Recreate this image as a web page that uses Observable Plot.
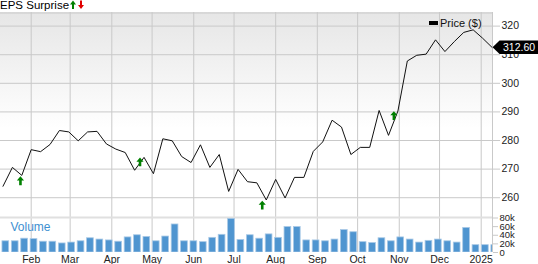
<!DOCTYPE html>
<html><head><meta charset="utf-8">
<script src="https://cdn.jsdelivr.net/npm/d3@7"></script>
<script src="https://cdn.jsdelivr.net/npm/@observablehq/plot@0.6"></script>
<style>
body{margin:0;background:#fff;font-family:"Liberation Sans",Arial,sans-serif;}
#wrap{position:relative;width:538px;height:264px;overflow:hidden;}
#title{height:12px;font-size:11.5px;line-height:12px;color:#000;white-space:nowrap;}
#title span{position:relative;top:-1px;}
#title svg{vertical-align:top;margin-left:1px;}
#price svg,#vol svg{display:block;}
#legRect{position:absolute;left:429px;top:21px;width:9px;height:4px;background:#000;}
#legText{position:absolute;left:440px;top:18px;font-size:11px;line-height:11px;color:#111;}
</style></head><body>
<div id="wrap">
  <div id="title"><span>EPS Surprise</span><svg width="6" height="10" viewBox="0 0 6 10"><path d="M3,0.5 L6,4.5 L4,4.5 L4,9 L2,9 L2,4.5 L0,4.5Z" fill="#008000"/></svg><svg width="6" height="10" viewBox="0 0 6 10" style="margin-left:2px"><path d="M2,0.5 L4,0.5 L4,5 L6,5 L3,9 L0,5 L2,5Z" fill="#e00000"/></svg></div>
  <div id="price"></div>
  <div id="vol"></div>
  <div id="legRect"></div>
  <div id="legText">Price ($)</div>
</div>
<script>
// ---- data ----
const firstWeek = "2024-01-11";
const lastWeek = "2025-01-09";
const prices = [264, 270.6, 267.8, 276.8, 276.1, 278.6, 283.5, 283, 279.9, 283,
  283.2, 278.8, 277, 275.8, 269.6, 274.1, 268.4, 280.6, 279.9, 274.4,
  272.3, 278.5, 270.6, 275.1, 262.2, 269.9, 265.6, 265.2, 259.2, 266.4,
  259.9, 267.1, 267.1, 276.2, 279.5, 287.1, 284.7, 275.1, 277.6, 277.6,
  290.5, 281.8, 290.3, 307.8, 309.8, 310.2, 315.2, 311.1, 314.6, 317.8,
  318.7, 315.8, 312.6];
const volumesK = [26, 26, 32, 31, 25, 25, 21, 23, 26, 33,
  30, 28, 25, 35, 40, 36, 26, 37, 65, 26,
  26, 24, 34, 41, 78, 29, 40, 32, 42, 34,
  59, 59, 28, 28, 26, 30, 52, 47, 24, 22,
  33, 26, 35, 30, 23, 27, 30, 26, 23, 57,
  17, 17, 17];
const epsDates = ["2024-01-24", "2024-04-22", "2024-07-22", "2024-10-28"];
const epsLevels = [265.9, 272.5, 257.4, 288.7];
const priceTicks = [260, 270, 280, 290, 300, 310, 320];
const volTicks = [0, 20000, 40000, 60000, 80000];

// ---- tables ----
const weeks = d3.utcThursday.range(new Date(firstWeek), d3.utcDay.offset(new Date(lastWeek), 1));
const priceData = weeks.map((d, i) => ({date: d, price: prices[i]}));
const volData = weeks.map((d, i) => ({date: d, vol: volumesK[i] * 1000}));
const epsData = epsDates.map((d, i) => ({date: new Date(d), level: epsLevels[i]}));
const last = priceData[priceData.length - 1];

const xDomain = [new Date("2024-01-09T03:29Z"), new Date("2025-01-09T09:53Z")];
const monthTicks = d3.utcMonth.range(new Date("2024-02-01"), new Date("2025-01-02"));
const grid = "#c9c9c9";
const font = '"Liberation Sans", Arial, sans-serif';

const upArrow = {draw(c) {
  c.moveTo(0, -4.5); c.lineTo(3.6, -0.3); c.lineTo(1.3, -0.3); c.lineTo(1.3, 4.3);
  c.lineTo(-1.3, 4.3); c.lineTo(-1.3, -0.3); c.lineTo(-3.6, -0.3); c.closePath();
}};
const tag = {draw(c) {
  c.moveTo(0, 0); c.lineTo(7, -6.8); c.lineTo(48, -6.8); c.lineTo(48, 6.8); c.lineTo(7, 6.8); c.closePath();
}};

const pricePlot = Plot.plot({
  width: 538, height: 204, marginLeft: 0, marginRight: 46, marginTop: 0, marginBottom: 0,
  style: {background: "linear-gradient(#e6e6e6, #ffffff 57%) no-repeat 0 0 / 492px 100%", fontFamily: font, overflow: "visible"},
  x: {domain: xDomain, axis: null},
  y: {domain: [253.43, 324.76], axis: null},
  marks: [
    Plot.ruleX(monthTicks, {stroke: grid}),
    Plot.ruleY(priceTicks, {stroke: grid}),
    Plot.ruleY([324.76], {stroke: grid, dy: 0.5}),
    Plot.ruleX([xDomain[1]], {stroke: grid}),
    Plot.axisY(priceTicks, {anchor: "right", tickSize: 7, tickPadding: 2, stroke: grid, fill: "#222", fontSize: 10.5, label: null}),
    Plot.lineY(priceData, {x: "date", y: "price", stroke: "#111", strokeWidth: 1}),
    Plot.dot(epsData, {x: "date", y: "level", symbol: upArrow, fill: "#008000", stroke: "none", r: 4}),
    Plot.dot([last], {x: "date", y: "price", symbol: tag, fill: "#000", stroke: "none", dx: 0.6}),
    Plot.text([last], {x: "date", y: "price", text: d => d3.format(".2f")(d.price), fill: "#fff", dx: 11, textAnchor: "start", fontSize: 10.5})
  ]
});
document.getElementById("price").appendChild(pricePlot);

const dayMs = 864e5;
const volPlot = Plot.plot({
  width: 538, height: 48, marginLeft: 0, marginRight: 46, marginTop: 0, marginBottom: 12,
  style: {background: "transparent", fontFamily: font, overflow: "visible"},
  x: {domain: xDomain, axis: null},
  y: {domain: [0, 83500], axis: null},
  marks: [
    Plot.ruleX(monthTicks, {stroke: grid}),
    Plot.ruleX([xDomain[1]], {stroke: grid}),
    Plot.ruleY([83500], {stroke: "#e0e0e0", strokeWidth: 2, dy: 1}),
    Plot.rectY(volData, {x1: d => new Date(+d.date - 0.4 * dayMs), x2: d => new Date(+d.date + 4.6 * dayMs), y: "vol", fill: "#4f95d0", stroke: "#a9c9e6", strokeWidth: 0.8, clip: true}),
    Plot.axisY(volTicks, {anchor: "right", tickSize: 5, tickPadding: 2, stroke: grid, fill: "#222", fontSize: 9.5, label: null, tickFormat: d => d ? d / 1000 + "k" : "0"}),
    Plot.axisX(monthTicks, {tickSize: 0, tickPadding: 3, fill: "#222", fontSize: 10.5, label: null,
      tickFormat: d => d.getUTCMonth() === 0 ? String(d.getUTCFullYear()) : d3.utcFormat("%b")(d)}),
    Plot.text(["Volume"], {frameAnchor: "top-left", dx: 10, dy: 10.7, text: d => d, textAnchor: "start", lineAnchor: "middle", fill: "#3d8fd1", fontSize: 12})
  ]
});
document.getElementById("vol").appendChild(volPlot);
</script>
</body></html>
